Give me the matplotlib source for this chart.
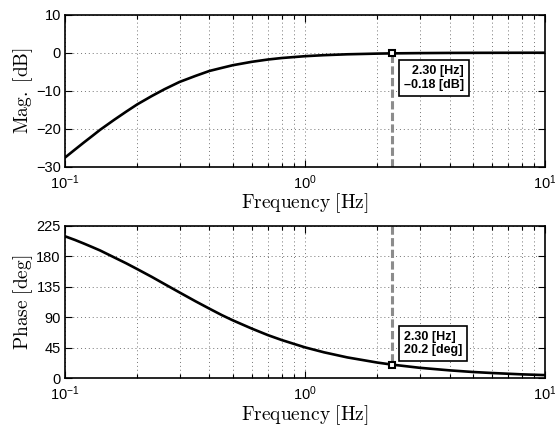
import matplotlib
matplotlib.use('Agg')
import matplotlib.pyplot as plt

# values
freq = [0.1, 0.11, 0.12, 0.13, 0.14, 0.16, 0.18, 0.2, 0.23, 0.26, 0.3, 0.35,
        0.4, 0.45, 0.5, 0.6, 0.7, 0.8, 1.0, 1.2, 1.5, 2.0, 2.3, 3.0, 4.0,
        5.0, 6.0, 8.0, 10.0]
mag_db = [-27.6, -25.5, -23.6, -21.9, -20.3, -17.7, -15.5, -13.6, -11.4,
          -9.6, -7.7, -6.1, -4.8, -4.0, -3.3, -2.4, -1.8, -1.4, -0.92, -0.65,
          -0.42, -0.24, -0.18, -0.11, -0.06, -0.04, -0.03, -0.015, -0.01]
phase_deg = [209.4, 204.0, 198.6, 193.4, 188.5, 178.4, 169.5, 161.0, 149.5,
             138.9, 126.6, 113.5, 102.6, 93.2, 85.5, 73.3, 63.7, 56.4, 45.6,
             38.3, 30.8, 23.2, 20.2, 15.5, 11.7, 9.3, 7.8, 5.8, 4.7]

cursor_freq = 2.30
cursor_mag = -0.18
cursor_phase = 20.2

mag_ticks = [-30, -20, -10, 0, 10]
phase_ticks = [0, 45, 90, 135, 180, 225]

plt.rcParams['font.family'] = ['Liberation Sans', 'DejaVu Sans']
plt.rcParams['mathtext.fontset'] = 'cm'

fig = plt.figure(figsize=(5.55, 4.26), dpi=100)
ax1 = fig.add_axes([0.1171, 0.6087, 0.8649, 0.3568])
ax2 = fig.add_axes([0.1171, 0.112, 0.8649, 0.3582])


def style(ax, ticks, ylabel):
    ax.set_xscale('log')
    ax.set_xlim(0.1, 10)
    ax.set_yticks(ticks)
    ax.set_ylim(ticks[0], ticks[-1])
    ax.tick_params(which='both', direction='in', top=True, right=True,
                   labelsize=10.5, width=0.8)
    ax.tick_params(which='major', length=5)
    ax.tick_params(which='minor', length=3)
    ax.tick_params(axis='x', which='major', pad=4.5)
    ax.tick_params(axis='y', which='major', pad=3)
    grid_style = dict(ls=(0, (1, 3)), color='0.45', lw=0.7)
    ax.grid(True, which='major', **grid_style)
    ax.grid(True, which='minor', axis='x', **grid_style)
    ax.set_axisbelow(True)
    ax.set_xlabel(r'$\mathrm{Frequency\ [Hz]}$', fontsize=14, labelpad=0)
    ax.set_ylabel(ylabel, fontsize=14, labelpad=1)
    for s in ax.spines.values():
        s.set_linewidth(1.2)


def cursor(ax, y, ybase, text, offset, align):
    ax.plot([cursor_freq, cursor_freq], [ybase, y], color='0.55', lw=2.2,
            ls=(0, (2.7, 1.1)), zorder=2)
    ax.plot([cursor_freq], [y], 's', ms=5, mfc='white', mec='black',
            mew=1.5, zorder=4)
    ax.annotate(text, xy=(cursor_freq, y), xytext=offset,
                textcoords='offset pixels', ha='center', va='center',
                multialignment=align, fontsize=9, fontweight='bold',
                bbox=dict(boxstyle='square,pad=0.4', fc='white',
                          ec='black', lw=1.2), zorder=5)


ax1.plot(freq, mag_db, color='black', lw=1.9, zorder=3)
style(ax1, mag_ticks, r'$\mathrm{Mag.\ [dB]}$')
cursor(ax1, cursor_mag, mag_ticks[0],
       f'{cursor_freq:.2f} [Hz]\n{cursor_mag:.2f} [dB]'.replace('-', '\u2013'),
       (42, -25), 'right')

ax2.plot(freq, phase_deg, color='black', lw=1.9, zorder=3)
style(ax2, phase_ticks, r'$\mathrm{Phase\ [deg]}$')
cursor(ax2, cursor_phase, phase_ticks[-1],
       f'{cursor_freq:.2f} [Hz]\n{cursor_phase:.1f} [deg]',
       (41, 21), 'left')

fig.savefig('out.png', dpi=100)
